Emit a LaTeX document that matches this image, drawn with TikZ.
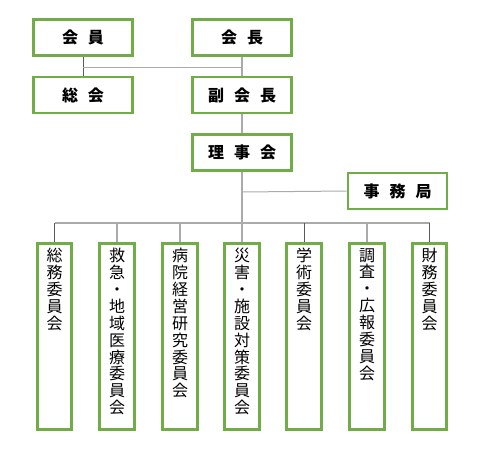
\documentclass[tikz,border=0pt]{standalone}
\usepackage{fontspec}
\setmainfont{Noto Sans CJK JP}
\definecolor{grn}{RGB}{112,173,71}
\definecolor{lnA}{RGB}{90,90,90}
\definecolor{lnB}{RGB}{170,170,170}
\tikzset{
  hbox/.style={draw=grn, line width=2.6pt, fill=white, minimum width=99pt, minimum height=36pt, inner sep=0pt, font=\fontsize{16}{16}\selectfont\bfseries},
  vbox/.style={draw=grn, line width=2.6pt, fill=white, minimum width=34.5pt, minimum height=186pt, inner sep=0pt},
  vtext/.style={anchor=north, align=center, inner sep=0pt, font=\fontsize{16}{16.9}\selectfont},
  darkline/.style={draw=lnA, line width=0.8pt},
  lightline/.style={draw=lnB, line width=1.5pt}
}
\newcommand{\gp}{\hspace{10pt}}
\begin{document}
\begin{tikzpicture}[x=1pt,y=-1pt]
\useasboundingbox (0,0) rectangle (480,474);
% header boxes
\node[hbox] (kaiin) at (83,37.5) {会\gp 員};
\node[hbox] (kaicho) at (242,37.5) {会\gp 長};
\node[hbox] (sokai) at (83,95) {総\gp 会};
\node[hbox] (fuku) at (242,95) {副\gp 会\gp 長};
\node[hbox] (riji) at (242,152.5) {理\gp 事\gp 会};
\node[hbox] (jimu) at (397.5,191) {事\gp 務\gp 局};
% junction coordinates
\coordinate (j1) at (83,67);
\coordinate (j2) at (242,67);
\coordinate (j3) at (242,192);
\coordinate (b1) at (54.5,223);
\coordinate (b2) at (117,223);
\coordinate (b3) at (180,223);
\coordinate (b5) at (304,223);
\coordinate (b6) at (367,223);
\coordinate (b7) at (429.5,223);
% committee boxes
\node[vbox] (c1) at (54.5,336.5) {};
\node[vbox] (c2) at (117,336.5) {};
\node[vbox] (c3) at (180,336.5) {};
\node[vbox] (c4) at (242,336.5) {};
\node[vbox] (c5) at (304,336.5) {};
\node[vbox] (c6) at (367,336.5) {};
\node[vbox] (c7) at (429.5,336.5) {};
% connectors
\draw[darkline] (kaiin.south) -- (sokai.north);
\draw[lnB, line width=1pt] (j1) -- (j2);
\draw[lightline] (kaicho.south) -- (fuku.north);
\draw[lightline] (fuku.south) -- (riji.north);
\draw[lightline] (riji.south) -- (c4.north);
\draw[lnB, line width=1pt] (j3) -- (jimu.west);
\draw[lightline] (b1) -- (b7);
\draw[darkline] (b1) -- (c1.north);
\draw[lightline] (b2) -- (c2.north);
\draw[lightline] (b3) -- (c3.north);
\draw[darkline] (b5) -- (c5.north);
\draw[lightline] (b6) -- (c6.north);
\draw[darkline] (b7) -- (c7.north);
% vertical texts
\node[vtext] (t1) at (54.5,248) {総\\務\\委\\員\\会};
\node[vtext] (t2) at (117,248) {救\\急\\・\\地\\域\\医\\療\\委\\員\\会};
\node[vtext] (t3) at (180,248) {病\\院\\経\\営\\研\\究\\委\\員\\会};
\node[vtext] (t4) at (242,248) {災\\害\\・\\施\\設\\対\\策\\委\\員\\会};
\node[vtext] (t5) at (304,248) {学\\術\\委\\員\\会};
\node[vtext] (t6) at (367,248) {調\\査\\・\\広\\報\\委\\員\\会};
\node[vtext] (t7) at (429.5,248) {財\\務\\委\\員\\会};
\end{tikzpicture}
\end{document}
